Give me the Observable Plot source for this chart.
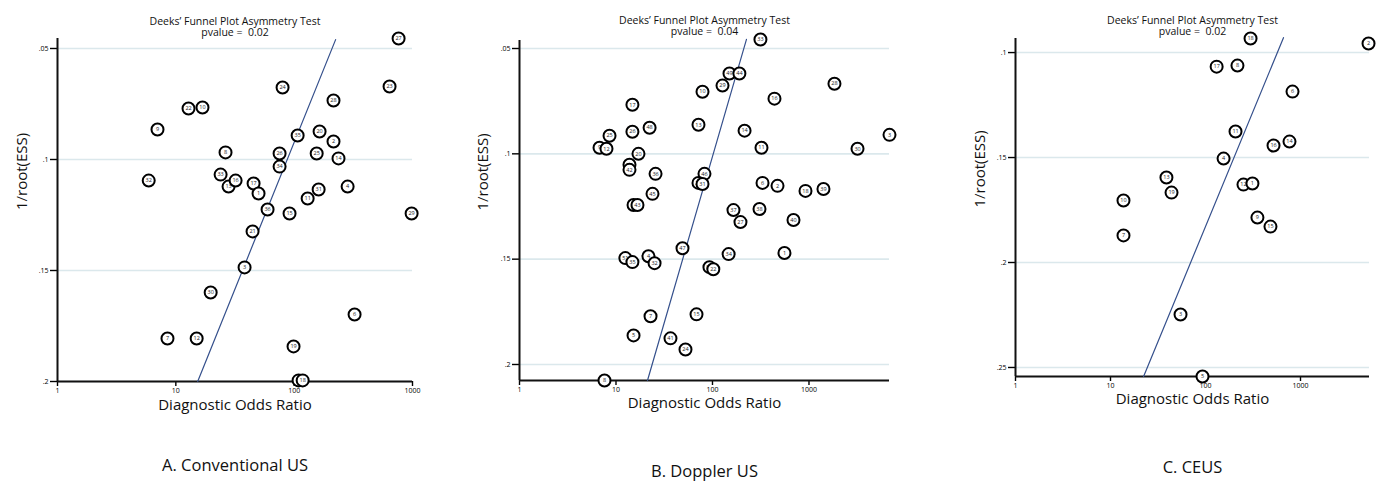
<!DOCTYPE html>
<html><head><meta charset="utf-8">
<script src="https://cdn.jsdelivr.net/npm/d3@7"></script>
<script src="https://cdn.jsdelivr.net/npm/@observablehq/plot@0.6"></script>
<style>
body{margin:0;background:#fff;}
#wrap{position:relative;width:1381px;height:498px;overflow:hidden;font-family:"Open Sans",sans-serif;}
#wrap > div{position:absolute;top:0;}
</style></head><body><div id="wrap"></div>
<script>
// ---- Panel A: Conventional US ----
const aStudy = [22,10,9,8,32,33,13,16,17,1,27,24,23,28,35,20,2,26,25,14,34,31,11,4,36,15,29,21,3,6,19,5,18,30,7,12];
const aDOR   = [12.8,16.8,7.0,26.3,5.9,23.9,27.9,32.0,45.4,50.0,763,79.8,640,215,107,164,215,75.3,155,237,75.3,161,130,283,59.6,91.4,983,44.5,38.1,324,98.8,109,118,19.7,8.5,15.0];
const aInv   = [0.077,0.0766,0.0865,0.0968,0.1095,0.1068,0.1122,0.1095,0.1108,0.1153,0.0455,0.0676,0.0671,0.0734,0.0892,0.0874,0.0919,0.0973,0.0973,0.0995,0.1032,0.1135,0.1176,0.1122,0.1225,0.1243,0.1243,0.1324,0.1486,0.1698,0.1842,0.1995,0.1995,0.1599,0.1806,0.1806];
const aLineDOR = [15.3, 224];
const aLineInv = [0.2, 0.046];

// ---- Panel B: Doppler US ----
const bStudy = [17,25,26,48,9,12,20,19,42,36,45,21,43,10,13,49,44,29,33,28,16,14,3,30,11,46,23,31,6,2,18,39,37,38,27,40,34,1,50,22,15,47,51,35,4,32,7,5,41,24,8];
const bDOR   = [14.8,8.57,14.8,22.3,6.75,7.97,17.1,13.8,13.8,25.7,23.9,15.2,16.7,78.8,71.6,150,190,127,314,1837,439,215,6830,3184,322,82.6,71.6,78.8,330,472,920,1413,165,307,195,691,147,557,93,102,68.3,48.9,12.5,14.8,21.7,25.1,22.8,15.2,36.7,52.5,7.6];
const bInv   = [0.0767,0.0914,0.0895,0.0876,0.0971,0.0976,0.1,0.1052,0.1076,0.1095,0.119,0.1243,0.1243,0.0705,0.0862,0.0619,0.0619,0.0676,0.0457,0.0667,0.0738,0.089,0.091,0.0976,0.0971,0.1095,0.1138,0.1143,0.1138,0.1152,0.1176,0.1167,0.1267,0.1262,0.1324,0.1314,0.1476,0.1471,0.1538,0.1548,0.1762,0.1448,0.1495,0.1514,0.1486,0.1519,0.1771,0.1862,0.1876,0.1929,0.2076];
const bLineDOR = [21.2, 225];
const bLineInv = [0.2076, 0.0457];

// ---- Panel C: CEUS ----
const cStudy = [18,2,17,8,6,11,16,14,4,13,19,12,1,10,9,15,7,3,5];
const cDOR   = [298,5200,131,217,824,207,520,766,155,38.8,43.9,251,312,13.7,352,483,13.7,54.6,93];
const cInv   = [0.0933,0.0957,0.1067,0.1062,0.1186,0.1376,0.1443,0.1424,0.1505,0.1595,0.1667,0.1629,0.1624,0.1705,0.1786,0.1829,0.1871,0.2248,0.2543];
const cLineDOR = [22.3, 662];
const cLineInv = [0.2543, 0.0929];

// ---- ticks & texts ----
const xTicks = [1, 10, 100, 1000];
const yTicksAB = [0.05, 0.1, 0.15, 0.2];
const yTicksC = [0.1, 0.15, 0.2, 0.25];
const titleText = "Deeks\u2019 Funnel Plot Asymmetry Test";
const pvalues = ["0.02", "0.04", "0.02"];
const captions = ["A. Conventional US", "B. Doppler US", "C. CEUS"];
const xLabel = "Diagnostic Odds Ratio";
const yLabel = "1/root(ESS)";

const fmtY = d => d3.format(".2~f")(d).replace(/^0/, "");
const font = "'Open Sans', sans-serif";

function panel(cfg) {
  const pts = cfg.study.map((s, i) => ({s: String(s), x: cfg.dor[i], y: cfg.inv[i]}));
  const line = cfg.lineDOR.map((x, i) => ({x, y: cfg.lineInv[i]}));
  const pointMarks = pts.flatMap(p => [
    Plot.dot([p], {x: "x", y: "y", r: 6, fill: "white", stroke: "black", strokeWidth: 2}),
    Plot.text([p], {x: "x", y: "y", text: "s", fontSize: 5.5, fill: "#222"})
  ]);
  return Plot.plot({
    width: cfg.width, height: 498,
    marginLeft: cfg.m[0], marginRight: cfg.m[1], marginTop: cfg.m[2], marginBottom: cfg.m[3],
    style: {fontFamily: font, background: "transparent", overflow: "visible"},
    x: {type: "log", domain: cfg.xDomain},
    y: {domain: cfg.yDomain, reverse: true},
    marks: [
      Plot.ruleY(cfg.yTicks, {stroke: "#dbe8ec", strokeWidth: 1.6}),
      Plot.axisY(cfg.yTicks, {tickSize: 7, tickPadding: 2, fontSize: 7, tickFormat: fmtY, label: null, strokeWidth: 1.4}),
      Plot.axisX(xTicks, {tickSize: 5, tickPadding: 2, fontSize: 7, tickFormat: d => String(d), label: null, strokeWidth: 1.4}),
      Plot.ruleX([cfg.xDomain[0]], {stroke: "#111", strokeWidth: 2}),
      Plot.ruleY([cfg.yDomain[1]], {stroke: "#111", strokeWidth: 2}),
      Plot.line(line, {x: "x", y: "y", stroke: "#35508c", strokeWidth: 1.2}),
      ...pointMarks,
      Plot.text([titleText], {frameAnchor: "top", dy: cfg.tdy, fontSize: 10.5, fill: "#111"}),
      Plot.text(["pvalue =  " + cfg.p], {frameAnchor: "top", dy: cfg.tdy + 11, fontSize: 10.5, fill: "#111"}),
      Plot.text([yLabel], {frameAnchor: "left", rotate: -90, dx: cfg.ydx, fontSize: 15, fill: "#111"}),
      Plot.text([xLabel], {frameAnchor: "bottom", dy: cfg.xdy, fontSize: 15, fill: "#111"}),
      Plot.text([cfg.caption], {frameAnchor: "bottom", dy: cfg.cdy, fontSize: 16.5, fill: "#111"})
    ]
  });
}

const wrap = document.getElementById("wrap");
const cfgs = [
  {left: 0, width: 470, m: [57, 58, 38, 117], xDomain: [1, 1000], yDomain: [0.0455, 0.2], yTicks: yTicksAB,
   study: aStudy, dor: aDOR, inv: aInv, lineDOR: aLineDOR, lineInv: aLineInv, p: pvalues[0], caption: captions[0],
   tdy: -21, ydx: -35, xdy: 28, cdy: 89},
  {left: 470, width: 450, m: [49, 31, 40, 118], xDomain: [1, 6830], yDomain: [0.0462, 0.2076], yTicks: yTicksAB,
   study: bStudy, dor: bDOR, inv: bInv, lineDOR: bLineDOR, lineInv: bLineInv, p: pvalues[1], caption: captions[1],
   tdy: -24, ydx: -36, xdy: 27, cdy: 96},
  {left: 940, width: 441, m: [75, 12, 38, 122], xDomain: [1, 5325], yDomain: [0.0933, 0.2543], yTicks: yTicksC,
   study: cStudy, dor: cDOR, inv: cInv, lineDOR: cLineDOR, lineInv: cLineInv, p: pvalues[2], caption: captions[2],
   tdy: -22, ydx: -35, xdy: 27, cdy: 96}
];
for (const cfg of cfgs) {
  const d = document.createElement("div");
  d.style.left = cfg.left + "px";
  d.appendChild(panel(cfg));
  wrap.appendChild(d);
}
</script>
</body></html>
